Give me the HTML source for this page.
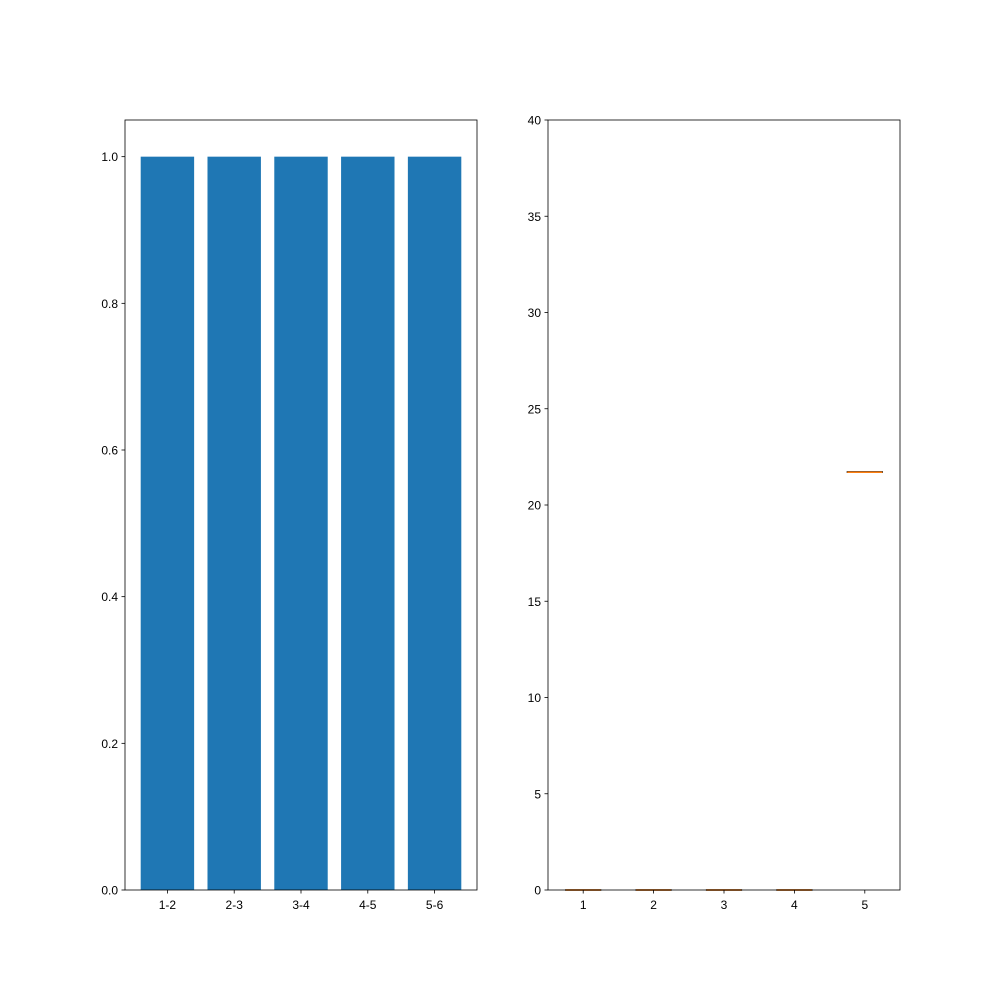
<!DOCTYPE html>
<html><head><meta charset="utf-8"><style>
html,body{margin:0;padding:0;background:#fff;}
svg{display:block;font-family:"Liberation Sans","DejaVu Sans",sans-serif;}
</style></head><body>
<svg id="c" width="1000" height="1000" viewBox="0 0 1000 1000"></svg>
<script>
const barCategories = ["1-2","2-3","3-4","4-5","5-6"];
const barValues = [1,1,1,1,1];
const barTicks = [0,0.2,0.4,0.6,0.8,1.0];
const boxPositions = [1,2,3,4,5];
const boxMedians = [0,0,0,0,21.7];
const boxQ1 = [0,0,0,0,21.68];
const boxQ3 = [0,0,0,0,21.72];
const boxTicks = [0,5,10,15,20,25,30,35,40];

const NS="http://www.w3.org/2000/svg";
const svg=document.getElementById('c');
function mk(t,a,p){const e=document.createElementNS(NS,t);for(const k in a)e.setAttribute(k,a[k]);(p||svg).appendChild(e);return e;}

// Left axes
const L={x0:125,x1:477,y0:120,y1:890,xmin:-0.635,xmax:4.635,ymin:0,ymax:1.05};
const lx=v=>L.x0+(v-L.xmin)/(L.xmax-L.xmin)*(L.x1-L.x0);
const ly=v=>L.y1-(v-L.ymin)/(L.ymax-L.ymin)*(L.y1-L.y0);
const gL=mk('g',{});


barValues.forEach((v,i)=>{
  const r=mk('rect',{x:lx(i-0.4),y:ly(v),width:lx(i+0.4)-lx(i-0.4),height:ly(0)-ly(v),fill:'#1f77b4'},gL);
  
  
  mk('line',{x1:lx(i),x2:lx(i),y1:L.y1,y2:L.y1+3.5,stroke:'#000','stroke-width':0.8},gL);
  const t=mk('text',{x:lx(i),y:L.y1+19,'font-size':12,'text-anchor':'middle'},gL);
  t.textContent=barCategories[i];
  
  
});
barTicks.forEach(v=>{
  mk('line',{x1:L.x0-3.5,x2:L.x0,y1:ly(v),y2:ly(v),stroke:'#000','stroke-width':0.8},gL);
  const t=mk('text',{x:L.x0-7,y:ly(v)+4.5,'font-size':12,'text-anchor':'end'},gL);
  t.textContent=v.toFixed(1);
  
  
});
mk('rect',{x:L.x0,y:L.y0,width:L.x1-L.x0,height:L.y1-L.y0,fill:'none',stroke:'#000','stroke-width':0.8},gL);

// Right axes
const R={x0:548,x1:900,y0:120,y1:890,xmin:0.5,xmax:5.5,ymin:0,ymax:40};
const rx=v=>R.x0+(v-R.xmin)/(R.xmax-R.xmin)*(R.x1-R.x0);
const ry=v=>R.y1-(v-R.ymin)/(R.ymax-R.ymin)*(R.y1-R.y0);
const gR=mk('g',{});


boxPositions.forEach((p,i)=>{
  const g=mk('g',{},gR);
  
  
  const h=Math.max(ry(boxQ1[i])-ry(boxQ3[i]),0.5);
  mk('rect',{x:rx(p-0.25),y:ry(boxQ3[i])-(h<1?0.25:0),width:rx(p+0.25)-rx(p-0.25),height:h,fill:'none',stroke:'#000','stroke-width':1},g);
  mk('line',{x1:rx(p-0.25),x2:rx(p+0.25),y1:ry(boxMedians[i]),y2:ry(boxMedians[i]),stroke:'#ff7f0e','stroke-width':1.5},g);
  mk('line',{x1:rx(p),x2:rx(p),y1:R.y1,y2:R.y1+3.5,stroke:'#000','stroke-width':0.8},gR);
  const t=mk('text',{x:rx(p),y:R.y1+19,'font-size':12,'text-anchor':'middle'},gR);
  t.textContent=String(p);
  
  
});
boxTicks.forEach(v=>{
  mk('line',{x1:R.x0-3.5,x2:R.x0,y1:ry(v),y2:ry(v),stroke:'#000','stroke-width':0.8},gR);
  const t=mk('text',{x:R.x0-7,y:ry(v)+4.5,'font-size':12,'text-anchor':'end'},gR);
  t.textContent=String(v);
  
  
});
mk('rect',{x:R.x0,y:R.y0,width:R.x1-R.x0,height:R.y1-R.y0,fill:'none',stroke:'#000','stroke-width':0.8},gR);
</script>
</body></html>
